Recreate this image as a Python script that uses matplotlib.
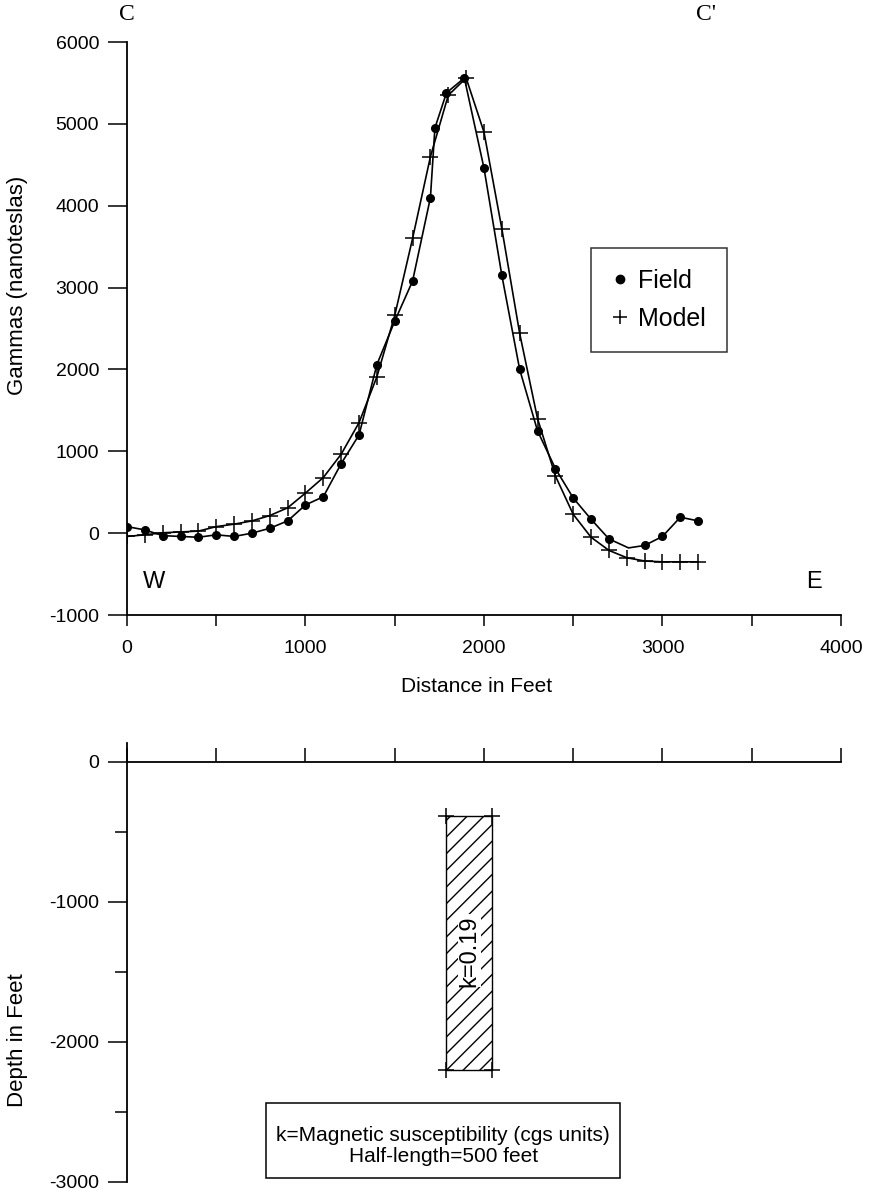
import matplotlib
matplotlib.use("Agg")
import matplotlib.pyplot as plt
from matplotlib.lines import Line2D
from matplotlib.patches import Rectangle

plt.rcParams['font.family'] = ['Liberation Sans', 'DejaVu Sans']
plt.rcParams['axes.unicode_minus'] = False

# field readings (distance in feet, gammas)
field_x = [0, 100, 200, 300, 400, 500, 600, 700, 800, 900, 1000, 1100, 1200, 1300,
           1400, 1500, 1600, 1700, 1725, 1790, 1890, 2000, 2100, 2200, 2300, 2400,
           2500, 2600, 2700, 2810, 2900, 3000, 3100, 3200]
field_y = [80, 40, -30, -40, -50, -20, -40, 0, 60, 150, 345, 445, 850, 1200,
           2060, 2590, 3080, 4100, 4950, 5380, 5560, 4460, 3150, 2000, 1250, 790,
           430, 170, -70, -180, -150, -40, 195, 150]
# station 2810 is a bend in the line with no dot drawn
field_nodot = [29]

# model curve
model_x = [0, 100, 200, 300, 400, 500, 600, 700, 800, 900, 1000, 1100, 1200, 1300,
           1400, 1500, 1600, 1700, 1800, 1900, 2000, 2100, 2200, 2300, 2400, 2500,
           2600, 2700, 2800, 2900, 3000, 3100, 3200]
model_y = [-40, -20, 5, 15, 25, 80, 110, 150, 215, 310, 490, 680, 965, 1350,
           1910, 2660, 3600, 4600, 5350, 5560, 4900, 3720, 2440, 1400, 700, 230,
           -50, -210, -300, -340, -350, -350, -350]

# model body (feet)
body_x = [1790, 2045]
body_depth = [-390, -2200]
body_k = 0.19

fig = plt.figure(figsize=(8.74, 11.94), dpi=100)

# ---- profile ----
ax1 = fig.add_axes([0.1453, 0.4849, 0.8169, 0.4799])
marked = [i for i in range(len(field_x)) if i not in field_nodot]
ax1.plot(field_x, field_y, color='black', lw=1.2, marker='o', ms=5.5,
         markevery=marked, zorder=3)
ax1.plot(model_x, model_y, color='black', lw=1.2, marker='+', ms=11, mew=1.1, zorder=2)

ax1.set_xlim(0, 4000)
ax1.set_ylim(-1000, 6000)
for s in ['top', 'right']:
    ax1.spines[s].set_visible(False)
for s in ['left', 'bottom']:
    ax1.spines[s].set_linewidth(1.3)
ax1.set_xticks(range(0, 4001, 1000))
ax1.set_xticks(range(500, 4000, 1000), minor=True)
ax1.set_yticks(range(-1000, 6001, 1000))
ax1.tick_params(axis='both', which='both', direction='out', width=1.1, labelsize=14)
ax1.tick_params(axis='x', which='both', length=8, pad=10)
ax1.tick_params(axis='y', which='major', length=14, pad=6)

ax1.set_xlabel('Distance in Feet', fontsize=15)
ax1.xaxis.set_label_coords(0.49, -0.108)
ax1.set_ylabel('Gammas (nanoteslas)', fontsize=16)
ax1.yaxis.set_label_coords(-0.139, 0.576)

ax1.text(150, -600, 'W', fontsize=17, ha='center', va='center')
ax1.text(3850, -600, 'E', fontsize=17, ha='center', va='center')
ax1.text(0, 6340, 'C', fontsize=17, family='Liberation Serif', ha='center',
         va='center', clip_on=False)
ax1.text(3245, 6340, "C'", fontsize=17, family='Liberation Serif', ha='center',
         va='center', clip_on=False)

handles = [Line2D([], [], color='black', marker='o', ms=6, ls='none'),
           Line2D([], [], color='black', marker='+', ms=10, mew=1.1, ls='none')]
leg = ax1.legend(handles, ['Field', 'Model'], loc='center',
                 bbox_to_anchor=(0.745, 0.55), fontsize=18, frameon=True,
                 fancybox=False, edgecolor='black', handlelength=0.6,
                 handletextpad=0.4, borderpad=0.85, labelspacing=0.55)
leg.get_frame().set_linewidth(1.1)

# ---- depth section ----
ax2 = fig.add_axes([0.1453, 0.0101, 0.8169, 0.3677])
ax2.set_xlim(0, 4000)
ax2.set_ylim(-3000, 135)
ax2.spines['top'].set_visible(False)
ax2.spines['right'].set_visible(False)
ax2.spines['bottom'].set_position(('data', 0))
for s in ['left', 'bottom']:
    ax2.spines[s].set_linewidth(1.3)
ax2.set_xticks(range(0, 4001, 500))
ax2.set_xticklabels([])
ax2.tick_params(axis='x', direction='in', length=10, width=1.1)
ax2.set_yticks(range(-3000, 1, 1000))
ax2.set_yticks([-2500, -1500, -500], minor=True)
ax2.tick_params(axis='y', which='major', direction='out', length=14, width=1.1,
                labelsize=14, pad=6)
ax2.tick_params(axis='y', which='minor', direction='out', length=9, width=1.1)
ax2.set_ylabel('Depth in Feet', fontsize=16)
ax2.yaxis.set_label_coords(-0.139, 0.323)

plt.rcParams['hatch.linewidth'] = 1.0
body = Rectangle((body_x[0], body_depth[1]), body_x[1] - body_x[0],
                 body_depth[0] - body_depth[1], facecolor='white',
                 edgecolor='black', hatch='//', lw=1.0)
ax2.add_patch(body)
ax2.plot([body_x[0], body_x[1], body_x[0], body_x[1]],
         [body_depth[0], body_depth[0], body_depth[1], body_depth[1]],
         ls='none', marker='+', ms=11, mew=1.1, color='black')
ax2.text(sum(body_x) / 2, -1350, f'k={body_k}', rotation=90, fontsize=17,
         ha='center', va='center',
         bbox=dict(facecolor='white', edgecolor='none', pad=0.5))

# note box
note_box = Rectangle((0.195, 0.009), 0.495, 0.171, transform=ax2.transAxes,
                     facecolor='white', edgecolor='black', lw=1.1)
ax2.add_patch(note_box)
ax2.text(0.443, 0.082, 'k=Magnetic susceptibility (cgs units)\nHalf-length=500 feet',
         transform=ax2.transAxes, fontsize=15, ha='center', va='center',
         multialignment='center', linespacing=1.12)

fig.savefig('out.png', dpi=100)
